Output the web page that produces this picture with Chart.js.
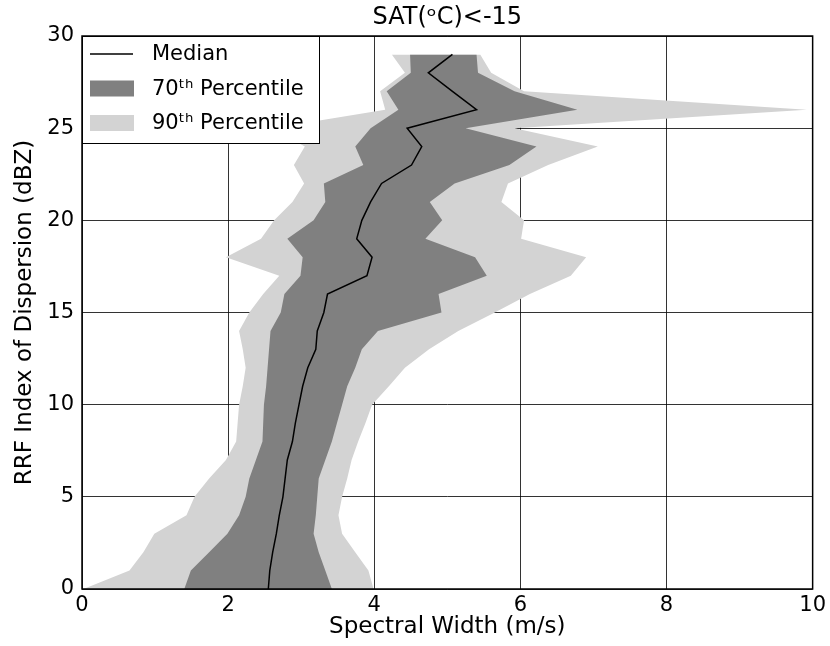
<!DOCTYPE html>
<html>
<head>
<meta charset="utf-8">
<script src="https://cdn.jsdelivr.net/npm/chart.js@4/dist/chart.umd.min.js"></script>
<style>
  body { margin: 0; background: #fff; }
</style>
</head>
<body>
<canvas id="dispChart" width="830" height="646"></canvas>
<script>
// RRF index of dispersion levels (dBZ)
const levels = [0, 1, 2, 3, 4, 5, 6, 7, 8, 9, 10, 11, 12, 13, 14,
                15, 16, 17, 18, 19, 20, 21, 22, 23, 24, 25, 26, 27, 28, 29];

// spectral width (m/s) at each level
const median = [2.55, 2.57, 2.61, 2.66, 2.70, 2.75, 2.78, 2.81, 2.88, 2.92,
                2.97, 3.02, 3.09, 3.20, 3.22, 3.31, 3.36, 3.90, 3.97, 3.76,
                3.83, 3.95, 4.10, 4.51, 4.65, 4.45, 5.40, 5.07, 4.74, 5.07];
const p70Low = [1.40, 1.49, 1.74, 1.99, 2.15, 2.24, 2.29, 2.38, 2.47, 2.48,
                2.49, 2.52, 2.54, 2.56, 2.58, 2.72, 2.77, 2.99, 3.02, 2.81,
                3.17, 3.33, 3.31, 3.85, 3.74, 3.95, 4.33, 4.17, 4.50, 4.49];
const p70High = [3.42, 3.33, 3.24, 3.17, 3.20, 3.22, 3.24, 3.33, 3.42, 3.49,
                 3.56, 3.63, 3.74, 3.83, 4.05, 4.92, 4.88, 5.54, 5.38, 4.70,
                 4.93, 4.76, 5.10, 5.85, 6.22, 5.25, 6.78, 5.92, 5.42, 5.40];
const p90Low = [0.02, 0.65, 0.84, 0.99, 1.43, 1.54, 1.74, 1.97, 2.11, 2.13,
                2.15, 2.20, 2.24, 2.20, 2.15, 2.29, 2.48, 2.70, 1.97, 2.45,
                2.63, 2.88, 3.04, 2.90, 3.05, 2.60, 4.15, 4.08, 4.42, 4.24];
const p90High = [3.99, 3.92, 3.74, 3.56, 3.51, 3.56, 3.63, 3.69, 3.78, 3.88,
                 3.97, 4.20, 4.42, 4.75, 5.15, 5.65, 6.13, 6.69, 6.90, 6.01,
                 6.05, 5.74, 5.83, 6.38, 7.06, 5.92, 9.92, 6.05, 5.60, 5.45];

const xTicks = [0, 2, 4, 6, 8, 10];
const yTicks = [0, 5, 10, 15, 20, 25, 30];

const legendItems = [
  { label: 'Median', kind: 'line', color: '#000' },
  { label: '70\u1D57\u02B0 Percentile', kind: 'box', color: '#808080' },
  { label: '90\u1D57\u02B0 Percentile', kind: 'box', color: '#d3d3d3' }
];

const FONT = "'DejaVu Sans', sans-serif";

function pts(values) {
  return levels.map((lv, i) => ({ x: values[i], y: lv }));
}

// frame + legend box drawn over everything, like matplotlib
const frameAndLegend = {
  id: 'frameAndLegend',
  afterDraw(chart) {
    const ctx = chart.ctx;
    const a = chart.chartArea;
    ctx.save();
    ctx.strokeStyle = '#000';
    ctx.lineWidth = 1.5;
    ctx.strokeRect(a.left, a.top, a.right - a.left, a.bottom - a.top);

    // legend
    const lx = a.left, ly = a.top;
    ctx.fillStyle = '#fff';
    ctx.fillRect(lx, ly, 237, 107);
    ctx.lineWidth = 1;
    ctx.strokeRect(lx + 0.5, ly + 0.5, 237, 107);
    ctx.font = '21px ' + FONT;
    ctx.textBaseline = 'middle';
    legendItems.forEach((item, i) => {
      const cy = ly + 18 + i * 34.5;
      if (item.kind === 'line') {
        ctx.strokeStyle = item.color;
        ctx.lineWidth = 1.5;
        ctx.beginPath();
        ctx.moveTo(lx + 8, cy);
        ctx.lineTo(lx + 51, cy);
        ctx.stroke();
      } else {
        ctx.fillStyle = item.color;
        ctx.fillRect(lx + 8, cy - 8, 44, 16);
      }
      ctx.fillStyle = '#000';
      ctx.fillText(item.label, lx + 70, cy + 1);
    });
    ctx.restore();
  }
};

const ctx = document.getElementById('dispChart').getContext('2d');
new Chart(ctx, {
  type: 'line',
  data: {
    datasets: [
      {
        label: 'Median',
        data: pts(median),
        borderColor: '#000',
        borderWidth: 1.5,
        pointRadius: 0,
        fill: false,
        order: 0
      },
      {
        label: '70 low',
        data: pts(p70Low),
        borderWidth: 0,
        borderColor: 'rgba(0,0,0,0)',
        pointRadius: 0,
        fill: false,
        order: 1
      },
      {
        label: '70 high',
        data: pts(p70High),
        borderWidth: 0,
        borderColor: 'rgba(0,0,0,0)',
        backgroundColor: '#808080',
        pointRadius: 0,
        fill: '-1',
        order: 1
      },
      {
        label: '90 low',
        data: pts(p90Low),
        borderWidth: 0,
        borderColor: 'rgba(0,0,0,0)',
        pointRadius: 0,
        fill: false,
        order: 2
      },
      {
        label: '90 high',
        data: pts(p90High),
        borderWidth: 0,
        borderColor: 'rgba(0,0,0,0)',
        backgroundColor: '#d3d3d3',
        pointRadius: 0,
        fill: '-1',
        order: 2
      }
    ]
  },
  options: {
    responsive: false,
    animation: false,
    indexAxis: 'y',
    layout: { padding: { left: 0, right: 15, top: 0, bottom: 0 } },
    plugins: {
      legend: { display: false },
      tooltip: { enabled: false },
      title: { display: false }
    },
    scales: {
      x: {
        type: 'linear',
        min: 0,
        max: 10,
        z: 1,
        afterBuildTicks: s => { s.ticks = xTicks.map(v => ({ value: v })); },
        afterFit: s => { s.height = 57; },
        grid: { color: 'rgba(0,0,0,0.8)', lineWidth: 1, drawTicks: false },
        border: { display: false },
        ticks: { color: '#000', padding: 4, font: { family: FONT, size: 21 } },
        title: {
          display: true,
          text: 'Spectral Width (m/s)',
          color: '#000',
          font: { family: FONT, size: 23 },
          padding: { top: 0, bottom: 5 }
        }
      },
      // top axis only carries the plot title, centred over the plot
      top: {
        type: 'linear',
        position: 'top',
        min: 0,
        max: 10,
        afterFit: s => { s.height = 36; },
        grid: { display: false },
        border: { display: false },
        ticks: { display: false },
        title: {
          display: true,
          text: 'SAT(\u1D52C)<-15',
          color: '#000',
          font: { family: FONT, size: 24 },
          padding: { top: 3, bottom: 0 }
        }
      },
      y: {
        type: 'linear',
        min: 0,
        max: 30,
        z: 1,
        afterBuildTicks: s => { s.ticks = yTicks.map(v => ({ value: v })); },
        afterFit: s => { s.width = 82; },
        grid: { color: 'rgba(0,0,0,0.8)', lineWidth: 1, drawTicks: false },
        border: { display: false },
        ticks: { color: '#000', padding: 8, font: { family: FONT, size: 21 } },
        title: {
          display: true,
          text: 'RRF Index of Dispersion (dBZ)',
          color: '#000',
          font: { family: FONT, size: 23 },
          padding: { top: 11, bottom: 0 }
        }
      }
    }
  },
  plugins: [frameAndLegend]
});
</script>
</body>
</html>
